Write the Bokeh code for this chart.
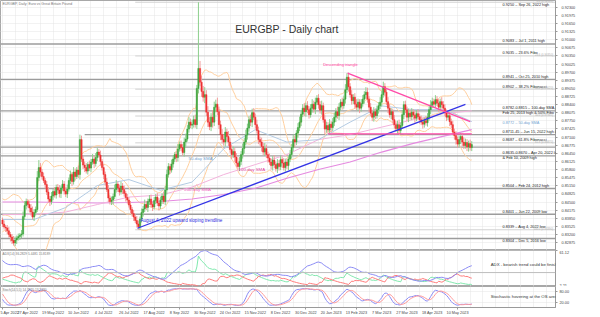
import numpy as np
import pandas as pd
from bokeh.plotting import figure
from bokeh.layouts import column
from bokeh.models import (Range1d, SingleIntervalTicker, FixedTicker, NumeralTickFormatter,
                          Label, Span)
from bokeh.embed import file_html
from bokeh.resources import INLINE

# ---------------- DATA (prices in pips above 0.8000) ----------------
BASE = 0.8
PIP = 0.0001

pre_close = [318, 296, 262, 232, 268, 300, 318, 350, 372, 360, 368, 390, 404, 420, 408,
             398, 414, 432, 446, 452, 436, 418, 410, 396, 378]
pre_up = [12, 10, 18, 20, 14, 16, 22, 10, 12, 18, 14, 10, 16, 12, 20, 8, 14, 10, 16, 12, 18, 10, 14, 12, 16]
pre_dn = [14, 20, 30, 16, 12, 10, 14, 18, 12, 10, 16, 14, 10, 18, 12, 16, 10, 14, 12, 18, 10, 16, 12, 14, 10]

close = [
    362, 350, 346, 335, 320, 310, 296, 286, 298, 306, 312, 318, 322, 392, 436, 452, 440, 426, 410, 390,
    408, 420, 548, 588, 570, 552, 536, 520, 490, 462, 452, 474, 492, 478, 508, 498, 484, 506, 522, 494,
    482, 502, 536, 560, 532, 570, 552, 578, 560, 700, 622, 598, 588, 574, 600, 586, 610, 622, 604, 628,
    650, 638, 612, 588, 560, 530, 500, 466, 452, 458, 472, 500, 522, 506, 490, 514, 500, 484, 468, 458,
    438, 420, 404, 390, 376, 362, 350, 382, 408, 422, 440, 428, 452, 462, 440, 430, 456, 470, 446, 434,
    458, 474, 452, 498, 560, 592, 578, 602, 622, 640, 628, 662, 680, 668, 648, 690, 702, 742, 770, 758,
    762, 780, 760, 905, 985, 930, 893, 870, 880, 810, 770, 752, 790, 770, 830, 842, 812, 760, 720, 700,
    690, 730, 712, 690, 660, 640, 652, 630, 606, 592, 612, 640, 664, 690, 718, 746, 780, 770, 808, 790,
    760, 736, 700, 690, 672, 650, 664, 640, 626, 610, 596, 618, 600, 584, 604, 592, 620, 606, 588, 610,
    596, 622, 640, 668, 700, 690, 726, 748, 770, 802, 826, 812, 836, 820, 800, 826, 842, 822, 850, 866,
    840, 818, 836, 780, 742, 756, 738, 762, 748, 770, 790, 812, 796, 830, 850, 836, 862, 900, 950, 912,
    880, 856, 870, 842, 830, 850, 826, 844, 862, 880, 890, 862, 830, 806, 790, 812, 796, 820, 836, 850,
    880, 912, 890, 852, 826, 800, 812, 780, 760, 744, 760, 736, 756, 800, 840, 820, 790, 806, 792, 810,
    798, 786, 804, 792, 780, 770, 762, 776, 768, 790, 820, 838, 852, 842, 860, 846, 830, 852, 840, 826,
    808, 790, 796, 772, 760, 730, 716, 700, 682, 700, 712, 690, 676, 688, 670, 684, 668, 680]

up_wick = [
    10, 14, 8, 12, 16, 10, 12, 18, 14, 10, 12, 8, 16, 20, 18, 12, 10, 14, 16, 22,
    14, 12, 26, 30, 18, 12, 16, 10, 14, 20, 12, 16, 10, 18, 12, 14, 20, 10, 16, 12,
    14, 18, 12, 16, 10, 20, 14, 12, 18, 20, 16, 12, 14, 18, 10, 16, 12, 20, 14, 18,
    16, 12, 18, 10, 14, 12, 16, 18, 10, 14, 12, 20, 16, 10, 14, 18, 12, 16, 10, 14,
    12, 16, 10, 14, 12, 18, 14, 10, 16, 12, 20, 14, 12, 16, 18, 10, 14, 12, 16, 20,
    14, 12, 18, 16, 20, 14, 12, 18, 16, 10, 14, 20, 12, 16, 14, 18, 22, 16, 20, 14,
    18, 16, 20, 14, 265, 30, 26, 22, 30, 18, 24, 20, 16, 28, 22, 18, 26, 20, 16, 22,
    18, 20, 14, 22, 16, 18, 20, 14, 16, 22, 18, 14, 20, 16, 22, 18, 14, 20, 16, 18,
    14, 20, 16, 12, 18, 14, 22, 16, 12, 18, 14, 16, 20, 12, 18, 14, 16, 12, 20, 14,
    16, 12, 18, 14, 20, 16, 12, 18, 22, 14, 16, 20, 12, 18, 14, 16, 20, 14, 18, 12,
    16, 14, 20, 12, 18, 16, 14, 20, 12, 16, 18, 14, 20, 16, 12, 18, 14, 22, 16, 18,
    14, 18, 12, 16, 20, 14, 12, 18, 16, 14, 20, 18, 12, 16, 14, 18, 12, 16, 14, 20,
    16, 20, 14, 12, 18, 16, 14, 12, 18, 14, 16, 20, 12, 18, 14, 16, 12, 18, 14, 16,
    12, 16, 14, 18, 12, 16, 14, 12, 18, 16, 14, 20, 16, 12, 18, 14, 16, 12, 18, 14,
    16, 12, 18, 14, 12, 16, 14, 18, 12, 16, 14, 12, 18, 16, 14, 12, 16, 14]

dn_wick = [
    12, 10, 16, 14, 12, 18, 14, 10, 12, 16, 10, 14, 12, 10, 14, 16, 12, 18, 14, 10,
    16, 12, 10, 14, 18, 12, 10, 16, 12, 14, 18, 12, 16, 10, 14, 12, 16, 18, 10, 14,
    12, 16, 10, 14, 18, 12, 16, 10, 14, 20, 12, 16, 18, 10, 14, 12, 16, 10, 18, 12,
    14, 10, 16, 12, 18, 14, 10, 16, 12, 14, 18, 10, 12, 16, 14, 10, 18, 12, 16, 14,
    10, 14, 12, 16, 10, 14, 11, 12, 14, 16, 12, 10, 18, 14, 12, 16, 10, 14, 12, 18,
    12, 16, 10, 14, 18, 12, 16, 10, 14, 12, 18, 16, 10, 14, 12, 16, 18, 10, 14, 12,
    16, 14, 12, 18, 20, 16, 22, 18, 24, 16, 20, 14, 18, 22, 16, 20, 14, 18, 22, 16,
    14, 18, 20, 16, 12, 18, 14, 20, 16, 12, 18, 14, 16, 20, 12, 18, 14, 16, 20, 12,
    16, 12, 18, 14, 20, 12, 16, 14, 18, 12, 16, 20, 14, 12, 18, 16, 14, 20, 12, 16,
    14, 18, 12, 16, 14, 20, 12, 18, 14, 16, 12, 18, 20, 14, 16, 12, 18, 14, 20, 12,
    16, 14, 18, 12, 20, 14, 16, 12, 18, 14, 16, 20, 12, 18, 14, 16, 12, 18, 14, 20,
    12, 16, 14, 18, 12, 16, 20, 14, 12, 18, 16, 14, 20, 12, 16, 18, 14, 12, 16, 14,
    18, 12, 16, 14, 20, 12, 18, 14, 16, 12, 20, 14, 16, 12, 18, 14, 16, 20, 12, 14,
    16, 18, 12, 14, 16, 12, 18, 14, 12, 16, 14, 18, 12, 16, 14, 12, 18, 14, 16, 12,
    14, 16, 12, 18, 14, 12, 16, 20, 14, 12, 18, 16, 14, 12, 16, 18, 12, 14]

date_labels = ["5 Apr 2022", "27 Apr 2022", "19 May 2022", "10 Jun 2022", "4 Jul 2022",
               "26 Jul 2022", "17 Aug 2022", "8 Sep 2022", "30 Sep 2022", "24 Oct 2022",
               "15 Nov 2022", "8 Dec 2022", "30 Dec 2022", "20 Jan 2023", "13 Feb 2023",
               "7 Mar 2023", "27 Mar 2023", "18 Apr 2023", "10 May 2023"]
DATE_STEP = 16

sma_bars = [0, 20, 40, 60, 80, 100, 120, 140, 160, 180, 200, 220, 240, 260, 280, 297]
sma50 = [380, 380, 428, 516, 540, 497, 530, 663, 740, 690, 700, 770, 835, 820, 820, 772]
sma100 = [400, 400, 410, 440, 470, 478, 510, 560, 600, 640, 700, 720, 750, 780, 805, 815]
sma200 = [450, 450, 448, 446, 448, 452, 462, 480, 505, 545, 580, 610, 650, 685, 715, 740]

levels = [0.9083, 0.8941, 0.8815, 0.8720, 0.8670, 0.8635, 0.8504, 0.8401, 0.8304]
level_from = [0, 0, 0, 52, 0, 0, 0, 0, 0]

fib_low, fib_high, fib_from = 0.8339, 0.9250, 84
fib_ratios = [0.0, 0.236, 0.382, 0.5, 0.618, 1.0]

trend_x, trend_y = [85.4, 293.0], [0.8345, 0.8841]
tri_top_x, tri_top_y = [218.4, 296.0], [0.8966, 0.8772]
tri_base_x, tri_base_y = [206.0, 297.0], [0.8723, 0.8723]

right_texts = ["0.9250 – Sep 26, 2022 high", "0.9083 – Jul 1, 2011 high", "0.9035 – 23.6% Fibo",
               "0.8941 – Oct 25, 2010 high", "0.8902 – 38.2% Fibonacci", "0.8782-0.8815 – 100-day SMA,",
               "Feb 25, 2013 high & 50% Fibo", "0.8772 – 50-day SMA",
               "0.8711-45 – Jun 15, 2022 high & 200-day SMA", "0.8687 – 61.8% Fibonacci",
               "0.8635-0.8670 – Apr 20, 2022 low", "& Feb 10, 2009 high", "0.8504 – Feb 24, 2012 high",
               "0.8401 – Jun 22, 2009 low", "0.8339 – Aug 4, 2022 low", "0.8304 – Dec 5, 2016 low"]

STO_K, STO_SLOW, STO_D = 14, 5, 5

# ---------------- derived series ----------------
allc = np.array(pre_close + close, dtype=float) * PIP + BASE
allup = np.array(pre_up + up_wick, dtype=float) * PIP
alldn = np.array(pre_dn + dn_wick, dtype=float) * PIP
npre = len(pre_close)
allx = np.arange(-npre, len(close))
allo = np.concatenate([[allc[0]], allc[:-1]])
allh = np.maximum(allo, allc) + allup
alll = np.minimum(allo, allc) - alldn

c = pd.Series(allc); h = pd.Series(allh); l = pd.Series(alll)
mid = c.rolling(20).mean(); sd = c.rolling(20).std(ddof=0)
bb_up = mid + 2 * sd; bb_dn = mid - 2 * sd

upm = h.diff(); dnm = -l.diff()
pdm = pd.Series(np.where((upm > dnm) & (upm > 0), upm, 0.0))
ndm = pd.Series(np.where((dnm > upm) & (dnm > 0), dnm, 0.0))
tr = pd.concat([h - l, (h - c.shift()).abs(), (l - c.shift()).abs()], axis=1).max(axis=1)
atr = tr.ewm(alpha=1 / 14, adjust=False).mean()
pdi = 100 * pdm.ewm(alpha=1 / 14, adjust=False).mean() / atr
ndi = 100 * ndm.ewm(alpha=1 / 14, adjust=False).mean() / atr
dx = 100 * (pdi - ndi).abs() / (pdi + ndi)
adx = dx.ewm(alpha=1 / 14, adjust=False).mean()

ll = l.rolling(STO_K).min(); hh = h.rolling(STO_K).max()
stk = 100 * (c - ll).rolling(STO_SLOW).sum() / (hh - ll).rolling(STO_SLOW).sum()
std_ = stk.rolling(STO_D).mean()

m = allx >= 0
X = allx[m]
O, H, L, C = allo[m], allh[m], alll[m], allc[m]
inc = C >= O

# ---------------- layout ----------------
FONT = "Liberation Sans"
xr = Range1d(-1.27, 350.0)
YTOP, YBOT = 0.9257, 0.8256
RB = 45


def style_right_axis(ax):
    ax.axis_line_color = "#9a9a9a"
    ax.major_tick_line_color = "#9a9a9a"
    ax.major_tick_out = 2
    ax.major_tick_in = 0
    ax.minor_tick_line_color = None
    ax.major_label_text_font_size = "3.8px"
    ax.major_label_text_color = "#444444"
    ax.major_label_text_font = FONT
    ax.major_label_standoff = 2


def base_fig(h, yr, xloc):
    f = figure(width=600, height=h, x_range=xr, y_range=yr, y_axis_location="right",
               x_axis_location=xloc, toolbar_location=None, output_backend="svg",
               min_border_left=0, min_border_right=RB, min_border_top=0, min_border_bottom=0,
               outline_line_color="#a8a8a8", background_fill_color="white",
               border_fill_color="white")
    f.xgrid.ticker = SingleIntervalTicker(interval=8)
    for g in (f.xgrid, f.ygrid):
        g.grid_line_color = "#e4e4e4"
        g.grid_line_dash = "1 1"
    style_right_axis(f.yaxis[0])
    return f


# ---- main price panel ----
p = base_fig(250, Range1d(YBOT, YTOP), None)
p.yaxis.ticker = SingleIntervalTicker(interval=0.00325)
p.yaxis.formatter = NumeralTickFormatter(format="0.00000")

fib_levels = [fib_high - r * (fib_high - fib_low) for r in fib_ratios]
for fl in fib_levels:
    p.segment(x0=fib_from, y0=fl, x1=xr.end, y1=fl, line_color="#d2d2d2", line_width=1)
for lv, st in zip(levels, level_from):
    p.segment(x0=st if st > 0 else xr.start, y0=lv, x1=xr.end, y1=lv,
              line_color="#9c9c9c", line_width=1.4)

for s in (bb_up, mid, bb_dn):
    p.line(X, s.values[m], line_color="#ffcf9e", line_width=1)
sb = np.array(sma_bars)
p.line(sb, np.array(sma200) * PIP + BASE, line_color="#e58ae0", line_width=1.1)
p.line(sb, np.array(sma100) * PIP + BASE, line_color="#f3b3dc", line_width=1)
p.line(sb, np.array(sma50) * PIP + BASE, line_color="#b3cbe3", line_width=1)

p.segment(X[inc], H[inc], X[inc], L[inc], line_color="#8ccf8c", line_width=1)
p.segment(X[~inc], H[~inc], X[~inc], L[~inc], line_color="#f39a9a", line_width=1)
p.vbar(x=X[inc], top=C[inc], bottom=O[inc], width=0.8, fill_color="#3da43d", line_color="#3da43d", line_width=0.5)
p.vbar(x=X[~inc], top=O[~inc], bottom=C[~inc], width=0.8, fill_color="#ee3030", line_color="#ee3030", line_width=0.5)

p.line(trend_x, trend_y, line_color="#3434e6", line_width=1.2)
p.line(tri_top_x, tri_top_y, line_color="#ff4aa8", line_width=1.3)
p.line(tri_base_x, tri_base_y, line_color="#ff4aa8", line_width=1.3)


def lab(fig, x, y, text, size, color, align="left", base="middle", yoff=0):
    fig.add_layout(Label(x=x, y=y, text=text, text_font=FONT, text_font_size=size,
                         text_color=color, text_align=align, text_baseline=base, y_offset=yoff))


lab(p, 180, 0.9144, "EURGBP - Daily chart", "10.5px", "#333333", align="center")
lab(p, 0, YTOP, "EURGBP, Daily:  Euro vs Great Britain Pound", "3.5px", "#777777", base="top", yoff=-1)
lab(p, 203, 0.9002, "Descending triangle", "3.9px", "#ff3399")
lab(p, 117.7, 0.8623, "50-day SMA", "4.4px", "#6f9fd0")
lab(p, 149.4, 0.8579, "100-day SMA", "4.4px", "#e0449f")
lab(p, 115.0, 0.8502, "200-day SMA", "4.4px", "#f060c0")
lab(p, 87.3, 0.8377, "August 4, 2022 upward sloping trendline", "4.6px", "#2a2ae0")

r_y = [0.9250, 0.9083, 0.9035, 0.8941, 0.8902, 0.8815, 0.8795, 0.8764, 0.8720, 0.8687,
       0.8635, 0.8635, 0.8504, 0.8401, 0.8339, 0.8304]
r_b = ["top", "bottom", "bottom", "bottom", "bottom", "bottom", "bottom", "middle", "bottom", "bottom",
       "bottom", "top", "bottom", "bottom", "bottom", "top"]
for t, yy, bb in zip(right_texts, r_y, r_b):
    col = "#6f9fd0" if t.startswith("0.8772") else "#222222"
    lab(p, 316.5, yy, t, "3.8px", col, base=bb, yoff=(-0.5 if bb == "top" else 0.5))

for r, fl in zip(fib_ratios, fib_levels):
    lab(p, 349, fl, f"{r*100:.1f}  ({fl:.5f})", "2.8px", "#b0b0b0", align="right", base="bottom")

# ---- ADX panel ----
a_adx, a_pdi, a_ndi = adx.values[m], pdi.values[m], ndi.values[m]
amax = float(np.nanmax([a_adx.max(), a_pdi.max(), a_ndi.max()]))
amin = float(np.nanmin([a_adx.min(), a_pdi.min(), a_ndi.min()]))
pa = base_fig(36, Range1d(amin, amax), None)
pa.yaxis.ticker = FixedTicker(ticks=[round(amax, 2), round(amin, 2)])
pa.yaxis.formatter = NumeralTickFormatter(format="0.00")
pa.add_layout(Span(location=25, dimension="width", line_color="#bdbdbd", line_width=1))
pa.line(X, a_pdi, line_color="#7fe8ad", line_width=1)
pa.line(X, a_ndi, line_color="#ff7b7b", line_width=1)
pa.line(X, a_adx, line_color="#8a8af5", line_width=1)
lab(pa, 0, amax, f"ADX(14) {a_adx[-1]:.4f} {a_pdi[-1]:.4f} {a_ndi[-1]:.4f}", "3.2px", "#777777", base="top", yoff=-1)
lab(pa, 309, amin + 0.62 * (amax - amin), "ADX - bearish trend could be finishing soon", "4.3px", "#333333")

# ---- Stochastic panel ----
ps = base_fig(31, Range1d(-3, 103), "below")
ps.yaxis.ticker = FixedTicker(ticks=[20, 80])
ps.yaxis.formatter = NumeralTickFormatter(format="0.00")
ps.line(X, stk.values[m], line_color="#8c8cf5", line_width=1)
ps.line(X, std_.values[m], line_color="#ff9a9a", line_width=1)
lab(ps, 0, 103, f"Stoch({STO_K},{STO_D},{STO_SLOW}) {stk.values[-1]:.4f} {std_.values[-1]:.4f}",
    "3.2px", "#777777", base="top", yoff=-1)
lab(ps, 309, 55, "Stochastic hovering at the OS area", "4.3px", "#333333")

xa = ps.xaxis[0]
xa.ticker = FixedTicker(ticks=[i * DATE_STEP for i in range(len(date_labels))])
xa.major_label_overrides = {i * DATE_STEP: d for i, d in enumerate(date_labels)}
xa.major_label_text_align = "left"
xa.major_label_text_font_size = "3.8px"
xa.major_label_text_font = FONT
xa.major_label_text_color = "#444444"
xa.axis_line_color = "#9a9a9a"
xa.major_tick_line_color = "#9a9a9a"
xa.major_tick_out = 2
xa.major_tick_in = 0
xa.minor_tick_line_color = None
xa.major_label_standoff = 1

layout = column(p, pa, ps, spacing=0)
open("out.html", "w").write(file_html(layout, INLINE))
